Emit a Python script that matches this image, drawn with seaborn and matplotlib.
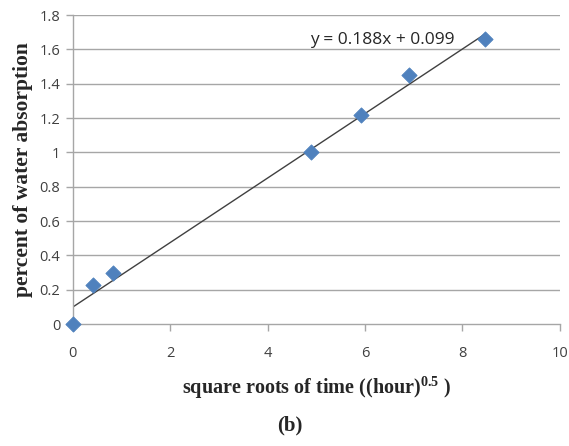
import matplotlib
matplotlib.use("Agg")
import matplotlib.pyplot as plt
import pandas as pd
import seaborn as sns

# measured points
sqrt_time = [0.0, 0.41, 0.83, 4.90, 5.92, 6.90, 8.47]
absorption = [0.0, 0.23, 0.30, 1.00, 1.22, 1.45, 1.66]

# linear trend line as printed on the chart
slope = 0.188
intercept = 0.099
x_ticks = [0, 2, 4, 6, 8, 10]
y_ticks = [0, 0.2, 0.4, 0.6, 0.8, 1, 1.2, 1.4, 1.6, 1.8]
y_tick_labels = ["0", "0.2", "0.4", "0.6", "0.8", "1", "1.2", "1.4", "1.6", "1.8"]


def main() -> None:
    df = pd.DataFrame({"x": sqrt_time, "y": absorption})
    fit = pd.DataFrame({"x": [0.0, max(sqrt_time)]})
    fit["y"] = slope * fit["x"] + intercept

    sns.set_style("white")
    plt.rcParams["mathtext.fontset"] = "custom"
    plt.rcParams["mathtext.rm"] = "Liberation Serif:bold"
    plt.rcParams["mathtext.it"] = "Liberation Serif:bold"
    plt.rcParams["mathtext.bf"] = "Liberation Serif:bold"

    fig = plt.figure(figsize=(5.69, 4.46), dpi=100)
    ax = fig.add_axes([0.128, 0.2735, 0.856, 0.6925])

    for yv in y_ticks[1:]:
        ax.axhline(yv, color="#a6a6a6", lw=1.0, zorder=0)

    sns.lineplot(data=fit, x="x", y="y", ax=ax, color="#404040", lw=1.0, zorder=2)
    sns.scatterplot(data=df, x="x", y="y", ax=ax, marker="D", s=60,
                    color="#4f81bd", edgecolor="#4f81bd", zorder=3, clip_on=False)

    ax.set_xlim(0, 10)
    ax.set_ylim(0, 1.8)
    ax.set_xticks(x_ticks)
    ax.set_xticklabels([str(t) for t in x_ticks], family="Open Sans", fontsize=10.5, color="#404040")
    ax.set_yticks(y_ticks)
    ax.set_yticklabels(y_tick_labels, family="Open Sans", fontsize=10.5, color="#404040")
    ax.tick_params(axis="x", length=5, width=1, color="#a6a6a6", direction="out", pad=11, bottom=True)
    ax.tick_params(axis="y", length=5, width=1, color="#a6a6a6", direction="out", pad=4, left=True)

    for side in ["top", "right"]:
        ax.spines[side].set_visible(False)
    for side in ["left", "bottom"]:
        ax.spines[side].set_color("#a6a6a6")
        ax.spines[side].set_linewidth(1.0)

    ax.set_xlabel("square roots of time ((hour)$^{0.5}$ )", family="Liberation Serif",
                  fontweight="bold", fontsize=14.5, labelpad=10)
    ax.set_ylabel("percent of water absorption", family="Liberation Serif",
                  fontweight="bold", fontsize=15.5, labelpad=5)

    ax.text(6.35, 1.655, f"y = {slope}x + {intercept:.3f}", family="Open Sans",
            fontsize=12.5, color="#262626", ha="center", va="center")

    fig.text(0.51, 0.047, "(b)", family="Liberation Serif", fontweight="bold",
             fontsize=15, ha="center", va="center")

    fig.savefig("out.png", dpi=100)
    plt.close(fig)


if __name__ == "__main__":
    main()
